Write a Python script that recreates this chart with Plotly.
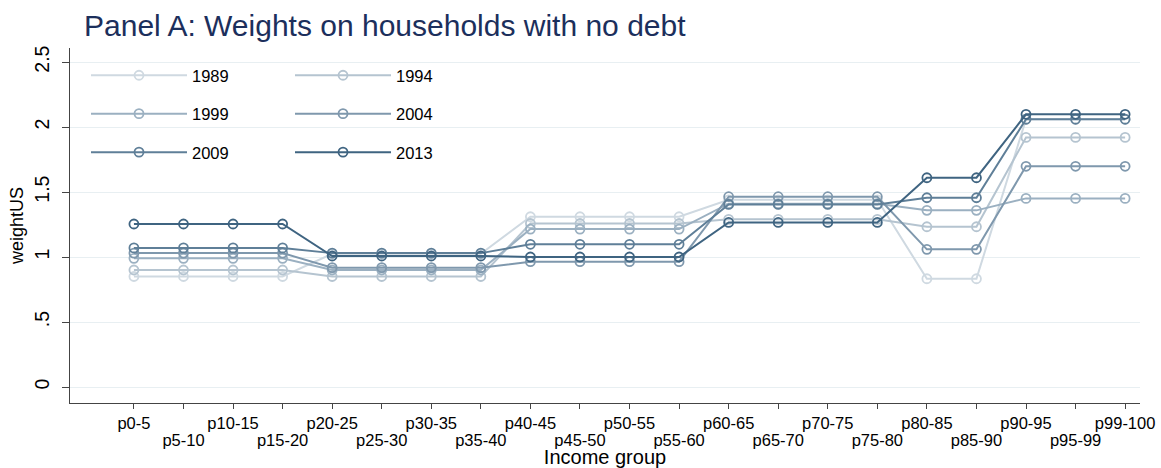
import plotly.graph_objects as go

groups = ["p0-5", "p5-10", "p10-15", "p15-20", "p20-25", "p25-30", "p30-35", "p35-40",
          "p40-45", "p45-50", "p50-55", "p55-60", "p60-65", "p65-70", "p70-75", "p75-80",
          "p80-85", "p85-90", "p90-95", "p95-99", "p99-100"]

w1989 = [0.85]*4 + [1.025]*4 + [1.31]*4 + [1.44]*4 + [0.833]*2 + [2.06]*3
w1994 = [0.90]*4 + [0.85]*4 + [1.258]*4 + [1.29]*4 + [1.233]*2 + [1.92]*3
w1999 = [0.99]*4 + [0.90]*4 + [1.215]*4 + [1.41]*4 + [1.359]*2 + [1.451]*3
w2004 = [1.03]*4 + [0.918]*4 + [0.964]*4 + [1.464]*4 + [1.059]*2 + [1.698]*3
w2009 = [1.07]*4 + [1.03]*4 + [1.098]*4 + [1.405]*4 + [1.456]*2 + [2.06]*3
w2013 = [1.254]*4 + [1.008]*4 + [1.0]*4 + [1.266]*4 + [1.61]*2 + [2.098]*3

years = ["1989", "1994", "1999", "2004", "2009", "2013"]
series = [w1989, w1994, w1999, w2004, w2009, w2013]
colors = ["#cfd9e1", "#b5c4d0", "#9bb0c1", "#7f98ad", "#5f7f98", "#3f6481"]
legend_of = ["legend", "legend2", "legend", "legend2", "legend", "legend2"]
# the last (topmost) series is drawn on the overlaid x axis that carries the staggered labels
xaxis_of = ["x", "x", "x", "x", "x", "x2"]

yticks = [0, 0.5, 1, 1.5, 2, 2.5]
yticklabels = ["0", ".5", "1", "1.5", "2", "2.5"]

xpos = list(range(len(groups)))
even_text = [g if i % 2 == 0 else "" for i, g in enumerate(groups)]
odd_pos = xpos[1::2]
odd_lab = groups[1::2]

fig = go.Figure()
for yr, vals, col, lg, xa in zip(years, series, colors, legend_of, xaxis_of):
    fig.add_trace(go.Scatter(
        x=xpos, y=vals, name=yr, mode="lines+markers", xaxis=xa, yaxis="y",
        line=dict(color=col, width=2),
        marker=dict(symbol="circle-open", size=9, color=col, line=dict(width=1.8, color=col)),
        legend=lg, legendgroup=yr,
    ))

L, R, T, B = 70, 21, 48, 65
pw = 1161 - L - R
ph = 468 - T - B
xr = [-1.29, 20.3]

font_family = "Liberation Sans, Arial, sans-serif"
fig.update_layout(
    width=1161, height=468,
    margin=dict(l=L, r=R, t=T, b=B, autoexpand=False),
    paper_bgcolor="white", plot_bgcolor="white",
    font=dict(family=font_family, color="black"),
    title=dict(text="Panel A: Weights on households with no debt", x=84/1161, xanchor="left",
               y=1 - 25/468, yanchor="middle", font=dict(size=30, color="#1c2f5c")),
    showlegend=True,
    legend=dict(x=(86 - L) / pw, y=1 - 10 / ph, xanchor="left", yanchor="top", orientation="v",
                bgcolor="rgba(255,255,255,0)", tracegroupgap=14, font=dict(size=16.5),
                itemwidth=96, borderwidth=0),
    legend2=dict(x=(290 - L) / pw, y=1 - 10 / ph, xanchor="left", yanchor="top", orientation="v",
                 bgcolor="rgba(255,255,255,0)", tracegroupgap=14, font=dict(size=16.5),
                 itemwidth=96, borderwidth=0),
    shapes=[dict(type="rect", xref="paper", yref="paper", x0=0.002, x1=(446 - L) / pw,
                 y0=1 - 120 / ph, y1=1 - 4 / ph, fillcolor="white", line=dict(width=0),
                 layer="between")],
    xaxis=dict(range=xr, tickmode="array", tickvals=xpos, ticktext=even_text,
               showgrid=False, zeroline=False, showline=True, linecolor="#444", linewidth=1.3,
               ticks="outside", ticklen=5, tickcolor="#444", tickangle=0, automargin=False,
               tickfont=dict(size=16.5),
               title=dict(text="Income group", font=dict(size=20), standoff=19)),
    xaxis2=dict(range=xr, overlaying="x", anchor="y", side="bottom", matches="x",
                tickmode="array", tickvals=odd_pos, ticktext=odd_lab,
                showgrid=False, zeroline=False, showline=False,
                ticks="", tickangle=0, automargin=False,
                ticklabelstandoff=25, tickfont=dict(size=16.5)),
    yaxis=dict(range=[-0.123, 2.608], tickmode="array", tickvals=yticks, ticktext=yticklabels,
               showgrid=True, gridcolor="#e8eff2", gridwidth=1.3, zeroline=False,
               showline=True, linecolor="#444", linewidth=1.3, automargin=False,
               ticks="outside", ticklen=7, tickcolor="#444", tickangle=-90,
               ticklabelstandoff=5,
               tickfont=dict(size=19.5),
               title=dict(text="weightUS", font=dict(size=18), standoff=2)),
)

fig.write_html("out.html", config={"displayModeBar": False},
               post_script="document.body.style.margin='0';")
